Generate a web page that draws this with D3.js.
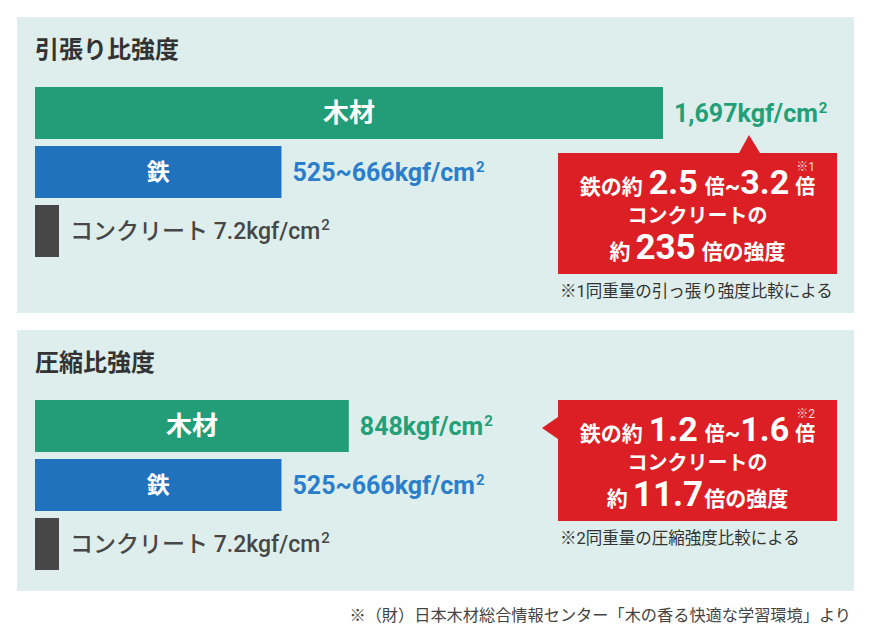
<!DOCTYPE html>
<html>
<head>
<meta charset="utf-8">
<script src="https://cdn.jsdelivr.net/npm/d3@7"></script>
<style>
  body { margin: 0; background: #fff; }
  svg { display: block; font-family: Roboto, "Noto Sans CJK JP", sans-serif; }
</style>
</head>
<body>
<div class="chart"></div>
<script>
// values (kgf/cm2)
const panelTitles = ["引張り比強度", "圧縮比強度"];
const materials = ["木材", "鉄", "コンクリート"];
const tensileValues = [1697, 666, 7.2];
const compressValues = [848, 666, 7.2];
const tensileLabels = ["1,697kgf/cm", "525~666kgf/cm", "コンクリート 7.2kgf/cm"];
const compressLabels = ["848kgf/cm", "525~666kgf/cm", "コンクリート  7.2kgf/cm"];
const ironRatio = [["2.5", "3.2"], ["1.2", "1.6"]];
const concreteRatio = ["235", "11.7"];
const noteMarks = ["※1", "※2"];
const footnotes = ["※1同重量の引っ張り強度比較による", "※2同重量の圧縮強度比較による"];
const source = "※（財）日本木材総合情報センター「木の香る快適な学習環境」より";

const colors = {"木材": "#239d78", "鉄": "#2072bd", "コンクリート": "#474747"};
const labelColors = {"木材": "#23a078", "鉄": "#2b7ecb", "コンクリート": "#474747"};

const svg = d3.select(".chart").append("svg")
    .attr("width", 872)
    .attr("height", 644);

const x = d3.scaleLinear().domain([0, d3.max(tensileValues)]).range([35, 663]);
const y = d3.scaleBand().domain(materials).range([70, 240]).paddingInner(7 / 59);

function drawPanel(i, values, labels, top, height, box) {
    let g = svg.append("g").attr("transform", "translate(0," + top + ")");

    g.append("rect")
        .attr("x", 17).attr("y", 0)
        .attr("width", 837).attr("height", height)
        .attr("fill", "#ddeeec");

    g.append("text")
        .attr("x", 35).attr("y", 33)
        .attr("dy", "0.35em")
        .attr("font-size", 24).attr("font-weight", 700)
        .attr("fill", "#333")
        .text(panelTitles[i]);

    let rows = materials.map((m, j) => ({name: m, value: values[j], label: labels[j]}));
    // concrete is too small to see at scale, keep a stub
    let barW = d => Math.max(x(d.value) - x(0), 24);

    g.selectAll(".bar")
        .data(rows)
        .enter()
        .append("rect")
        .attr("class", "bar")
        .attr("x", x(0))
        .attr("y", d => y(d.name))
        .attr("width", barW)
        .attr("height", y.bandwidth())
        .attr("fill", d => colors[d.name]);

    // names inside the bars
    g.selectAll(".name")
        .data(rows.filter(d => d.name != "コンクリート"))
        .enter()
        .append("text")
        .attr("x", d => x(0) + barW(d) / 2)
        .attr("y", d => y(d.name) + y.bandwidth() / 2)
        .attr("dy", "0.36em")
        .attr("text-anchor", "middle")
        .attr("font-size", d => d.name == "木材" ? 26 : 23)
        .attr("font-weight", 700)
        .attr("fill", "#fff")
        .text(d => d.name);

    let vl = g.selectAll(".val")
        .data(rows)
        .enter()
        .append("text")
        .attr("x", d => x(0) + barW(d) + 11)
        .attr("y", d => y(d.name) + y.bandwidth() / 2)
        .attr("dy", "0.36em")
        .attr("font-size", d => d.name == "コンクリート" ? 23 : 25)
        .attr("font-weight", d => d.name == "コンクリート" ? 500 : 700)
        .attr("fill", d => labelColors[d.name]);
    vl.append("tspan").text(d => d.label);
    vl.append("tspan")
        .attr("font-size", 15)
        .attr("dx", 1)
        .attr("dy", "-0.6em")
        .text("2");

    // red callout
    let b = g.append("g");
    b.append("path")
        .attr("d", box.pointer)
        .attr("fill", "#db1f25");
    b.append("rect")
        .attr("x", box.x).attr("y", box.y)
        .attr("width", 279).attr("height", 121)
        .attr("fill", "#db1f25");

    let cx = box.x + 279 / 2;
    let l1 = b.append("text")
        .attr("x", cx).attr("y", box.y + 41)
        .attr("text-anchor", "middle")
        .attr("fill", "#fff").attr("font-weight", 700);
    l1.append("tspan").attr("font-size", 21).text("鉄の約");
    l1.append("tspan").attr("font-size", 34).attr("dx", 6).text(ironRatio[i][0]);
    l1.append("tspan").attr("font-size", 20).attr("dx", 7).text("倍");
    l1.append("tspan").attr("font-size", 24).text("~");
    l1.append("tspan").attr("font-size", 34).text(ironRatio[i][1]);
    l1.append("tspan").attr("font-size", 20).attr("dx", 6).text("倍");

    b.append("text")
        .attr("x", box.x + 257).attr("y", box.y + 18)
        .attr("text-anchor", "end")
        .attr("font-size", 12)
        .attr("fill", "#fff").attr("fill-opacity", 0.85)
        .text(noteMarks[i]);

    b.append("text")
        .attr("x", cx).attr("y", box.y + 70)
        .attr("text-anchor", "middle")
        .attr("font-size", 20).attr("font-weight", 700)
        .attr("fill", "#fff")
        .text("コンクリートの");

    let l3 = b.append("text")
        .attr("x", cx).attr("y", box.y + 106)
        .attr("text-anchor", "middle")
        .attr("fill", "#fff").attr("font-weight", 700);
    l3.append("tspan").attr("font-size", 21).text("約");
    l3.append("tspan").attr("font-size", 35).attr("dx", 5).text(concreteRatio[i]);
    l3.append("tspan").attr("font-size", 21).attr("dx", i == 0 ? 6 : 1).text("倍の強度");

    g.append("text")
        .attr("x", box.x + 2).attr("y", box.y + 121 + 17)
        .attr("dy", "0.35em")
        .attr("font-size", 16.5)
        .attr("fill", "#333")
        .text(footnotes[i]);
}

drawPanel(0, tensileValues, tensileLabels, 17, 296,
    {x: 558, y: 136, pointer: "M739,136 L749,118 L760,136 Z"});
drawPanel(1, compressValues, compressLabels, 330, 261,
    {x: 558, y: 70, pointer: "M558,87 L542,98 L558,109 Z"});

svg.append("text")
    .attr("x", 851).attr("y", 615)
    .attr("dy", "0.35em")
    .attr("text-anchor", "end")
    .attr("font-size", 16.2)
    .attr("fill", "#444")
    .text(source);
</script>
</body>
</html>
